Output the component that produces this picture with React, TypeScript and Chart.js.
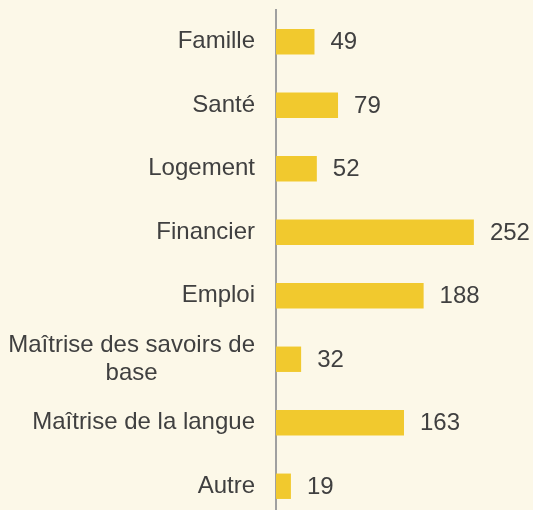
import React, { useEffect, useRef } from "react";
import { Chart, registerables } from "chart.js";

Chart.register(...registerables);

const categories: string[][] = [
  ["Famille"],
  ["Santé"],
  ["Logement"],
  ["Financier"],
  ["Emploi"],
  ["Maîtrise des savoirs de", "base"],
  ["Maîtrise de la langue"],
  ["Autre"],
];
const values: number[] = [49, 79, 52, 252, 188, 32, 163, 19];

const BG = "#FCF8E8";
const BAR = "#F1C92E";
const TEXT = "#404040";
const FONT = "24px 'Liberation Sans', Arial, sans-serif";

const labelsPlugin = {
  id: "customLabels",
  beforeDraw(chart: any) {
    const { ctx, width, height } = chart;
    ctx.save();
    ctx.fillStyle = BG;
    ctx.fillRect(0, 0, width, height);
    ctx.restore();
  },
  afterDraw(chart: any) {
    const { ctx, chartArea } = chart;
    const y = chart.scales.y;
    const x = chart.scales.x;
    ctx.save();
    ctx.font = FONT;
    ctx.fillStyle = TEXT;
    ctx.textBaseline = "middle";
    const lh = 28;
    categories.forEach((lines, i) => {
      const cy = y.getPixelForValue(i);
      const maxW = Math.max(...lines.map((l) => ctx.measureText(l).width));
      const right = chartArea.left - 21;
      const cx = right - maxW / 2;
      ctx.textAlign = "center";
      lines.forEach((line, j) => {
        ctx.fillText(line, cx, cy + (j - (lines.length - 1) / 2) * lh);
      });
    });
    ctx.textAlign = "left";
    values.forEach((v, i) => {
      const px = x.getPixelForValue(v) + 16;
      const py = y.getPixelForValue(i);
      ctx.fillText(String(v), px, py + 1);
    });
    ctx.restore();
  },
};

export default function App() {
  const ref = useRef<HTMLCanvasElement | null>(null);
  useEffect(() => {
    document.body.style.margin = "0";
    document.body.style.background = BG;
    const chart = new Chart(ref.current!, {
      type: "bar",
      data: {
        labels: categories.map((c) => c.join(" ")),
        datasets: [
          {
            data: values,
            backgroundColor: BAR,
            borderWidth: 0,
            barPercentage: 0.4,
            categoryPercentage: 1,
          },
        ],
      },
      options: {
        indexAxis: "y",
        animation: false,
        responsive: false,
        layout: { padding: { left: 276, right: 23, top: 10, bottom: 2 } },
        plugins: {
          legend: { display: false },
          tooltip: { enabled: false },
        },
        scales: {
          x: { display: false, min: 0, max: 298 },
          y: {
            grid: { display: false, drawTicks: false },
            ticks: { display: false },
            border: { display: true, color: "#A0A0A0", width: 2 },
          },
        },
      },
      plugins: [labelsPlugin],
    });
    return () => chart.destroy();
  }, []);
  return (
    <div style={{ position: "fixed", left: 0, top: 0, width: 533, height: 520, background: BG }}>
      <canvas ref={ref} width={533} height={520} style={{ display: "block" }} />
    </div>
  );
}
